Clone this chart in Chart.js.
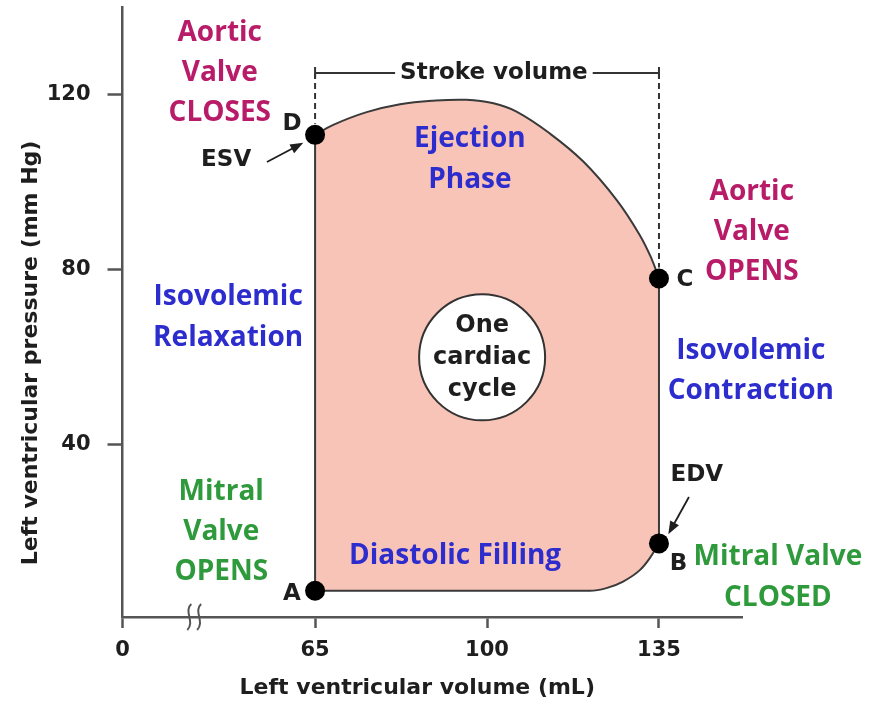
<!DOCTYPE html>
<html>
<head>
<meta charset="utf-8">
<script src="https://cdn.jsdelivr.net/npm/chart.js@4.4.1/dist/chart.umd.min.js"></script>
<style>
  html, body { margin: 0; padding: 0; background: #fff; }
  #wrap { width: 876px; height: 718px; }
</style>
</head>
<body>
<div id="wrap"><canvas id="pv-chart" width="876" height="718"></canvas></div>
<script>
// pressure-volume loop (volume in mL, pressure in mm Hg)
const topVolume = [65, 68.7, 75.5, 82.3, 89, 95.8, 101.3, 106, 112.8, 119.6, 126.4, 131.1, 133.5, 135];
const topPressure = [110.8, 113.1, 116.0, 117.8, 118.6, 118.8, 118.0, 116.1, 111.1, 104.7, 95.9, 87.9, 82.5, 78];

const bottomVolume = [65, 100, 120.9, 124.3, 127.7, 131.1, 133.1, 135];
const bottomPressure = [6.7, 6.7, 6.7, 7.3, 8.8, 11.4, 14.1, 17.5];

const pointNames = ["A", "B", "C", "D"];
const pointVolume = [65, 135, 135, 65];
const pointPressure = [6.7, 17.5, 78, 110.8];

// x axis is broken: the "0" tick sits at the break
const xTickValues = [25.8, 65, 100, 135];
const xTickLabels = ["0", "65", "100", "135"];
const yTickValues = [40, 80, 120];

const cycleVolume = 99;
const cyclePressure = 60;

const MAGENTA = "#b81c68", BLUE = "#2d2dce", GREEN = "#2f9a3c", INK = "#1e1e1e";
const LABEL_FONT = 'bold 28px "Open Sans", sans-serif';
const SMALL_FONT = 'bold 23px "DejaVu Sans", sans-serif';
const CYCLE_FONT = 'bold 24px "DejaVu Sans", sans-serif';

const xy = (xs, ys) => xs.map((v, i) => ({ x: v, y: ys[i] }));
const pt = i => ({ x: pointVolume[i], y: pointPressure[i] });

// text blocks placed in data units
const labels = [
  { lines: ["Aortic", "Valve", "CLOSES"], x: 45.6, y: 124.9, color: MAGENTA, gap: 40 },
  { lines: ["Ejection", "Phase"], x: 96.5, y: 105.1, color: BLUE, gap: 41 },
  { lines: ["Aortic", "Valve", "OPENS"], x: 153.9, y: 88.6, color: MAGENTA, gap: 40 },
  { lines: ["Isovolemic", "Relaxation"], x: 47.3, y: 69.0, color: BLUE, gap: 41 },
  { lines: ["Isovolemic", "Contraction"], x: 153.7, y: 56.9, color: BLUE, gap: 40 },
  { lines: ["Mitral", "Valve", "OPENS"], x: 45.9, y: 20.1, color: GREEN, gap: 40 },
  { lines: ["Diastolic Filling"], x: 93.5, y: 14.6, color: BLUE, gap: 40 },
  { lines: ["Mitral Valve", "CLOSED"], x: 159.2, y: 9.7, color: GREEN, gap: 41 },
  { lines: ["One", "cardiac", "cycle"], x: cycleVolume, y: cyclePressure, color: INK, gap: 32, font: CYCLE_FONT },
  { lines: ["ESV"], x: 46.9, y: 105.1, color: INK, font: SMALL_FONT },
  { lines: ["EDV"], x: 142.7, y: 33.1, color: INK, font: SMALL_FONT }
];
const pointLabelPos = [[60.3, 6.0], [139.0, 12.8], [140.3, 77.6], [60.3, 113.3]];
const arrows = [
  { from: [55.2, 104.6], to: [62.6, 109.0] },
  { from: [141.1, 28.1], to: [136.9, 19.6] }
];
const strokeLevel = 124.9;

function drawLines(ctx, b, px, py) {
  ctx.font = b.font || LABEL_FONT;
  ctx.fillStyle = b.color;
  ctx.textAlign = "center";
  ctx.textBaseline = "middle";
  const gap = b.gap || 40;
  const start = py - gap * (b.lines.length - 1) / 2;
  b.lines.forEach((t, i) => ctx.fillText(t, px, start + i * gap));
}

function arrow(ctx, x1, y1, x2, y2) {
  const a = Math.atan2(y2 - y1, x2 - x1);
  ctx.beginPath();
  ctx.moveTo(x1, y1);
  ctx.lineTo(x2 - 8 * Math.cos(a), y2 - 8 * Math.sin(a));
  ctx.stroke();
  ctx.beginPath();
  ctx.moveTo(x2, y2);
  ctx.lineTo(x2 - 13 * Math.cos(a) + 5 * Math.sin(a), y2 - 13 * Math.sin(a) - 5 * Math.cos(a));
  ctx.lineTo(x2 - 13 * Math.cos(a) - 5 * Math.sin(a), y2 - 13 * Math.sin(a) + 5 * Math.cos(a));
  ctx.closePath();
  ctx.fill();
}

const annotate = {
  id: "annotate",
  afterDraw(chart) {
    const { ctx, scales: { x, y }, chartArea } = chart;
    ctx.save();

    // stroke volume bracket + dashed drops to D and C
    const sy = y.getPixelForValue(strokeLevel);
    const x65 = x.getPixelForValue(pointVolume[3]);
    const x135 = x.getPixelForValue(pointVolume[2]);
    ctx.strokeStyle = "#333";
    ctx.lineWidth = 2;
    ctx.setLineDash([6, 4]);
    ctx.beginPath();
    ctx.moveTo(x65, sy);
    ctx.lineTo(x65, y.getPixelForValue(pointPressure[3]) - 11);
    ctx.moveTo(x135, sy);
    ctx.lineTo(x135, y.getPixelForValue(pointPressure[2]) - 11);
    ctx.stroke();
    ctx.setLineDash([]);
    ctx.beginPath();
    ctx.moveTo(x65, sy); ctx.lineTo(x135, sy);
    ctx.moveTo(x65, sy - 6); ctx.lineTo(x65, sy + 6);
    ctx.moveTo(x135, sy - 6); ctx.lineTo(x135, sy + 6);
    ctx.stroke();
    ctx.font = SMALL_FONT;
    const mid = x.getPixelForValue(101.4);
    const w = ctx.measureText("Stroke volume").width;
    ctx.fillStyle = "#fff";
    ctx.fillRect(mid - w / 2 - 5, sy - 14, w + 10, 28);
    ctx.fillStyle = INK;
    ctx.textAlign = "center";
    ctx.textBaseline = "middle";
    ctx.fillText("Stroke volume", mid, sy);

    // text labels
    labels.forEach(b => drawLines(ctx, b, x.getPixelForValue(b.x), y.getPixelForValue(b.y)));
    pointNames.forEach((n, i) => drawLines(ctx, { lines: [n], color: INK, font: SMALL_FONT },
      x.getPixelForValue(pointLabelPos[i][0]), y.getPixelForValue(pointLabelPos[i][1])));

    // ESV / EDV arrows
    ctx.strokeStyle = INK;
    ctx.fillStyle = INK;
    ctx.lineWidth = 1.8;
    arrows.forEach(a => arrow(ctx,
      x.getPixelForValue(a.from[0]), y.getPixelForValue(a.from[1]),
      x.getPixelForValue(a.to[0]), y.getPixelForValue(a.to[1])));

    // axis break marks
    const by = chartArea.bottom;
    ctx.strokeStyle = "#555";
    ctx.lineWidth = 2;
    [39.4, 41.4].forEach(v => {
      const bx = x.getPixelForValue(v);
      ctx.beginPath();
      ctx.moveTo(bx + 2, by - 13);
      ctx.bezierCurveTo(bx - 6, by - 6, bx + 6, by + 5, bx - 2, by + 13);
      ctx.stroke();
    });

    // axis titles
    ctx.fillStyle = INK;
    ctx.font = 'bold 22px "DejaVu Sans", sans-serif';
    ctx.textAlign = "center";
    ctx.textBaseline = "middle";
    ctx.fillText("Left ventricular volume (mL)", x.getPixelForValue(85.8), 688);
    ctx.translate(31, y.getPixelForValue(61));
    ctx.rotate(-Math.PI / 2);
    ctx.fillText("Left ventricular pressure (mm Hg)", 0, 0);
    ctx.restore();
  }
};

const ctx = document.getElementById("pv-chart").getContext("2d");
new Chart(ctx, {
  type: "scatter",
  data: {
    datasets: [
      { // A B C D markers
        data: xy(pointVolume, pointPressure),
        pointRadius: 10, pointBackgroundColor: "#000", pointBorderWidth: 0, showLine: false
      },
      { // "One cardiac cycle" disc
        data: [{ x: cycleVolume, y: cyclePressure }],
        pointRadius: 63, pointBackgroundColor: "#fff", pointBorderColor: "#333", pointBorderWidth: 2, showLine: false
      },
      { data: [pt(0), pt(3)], showLine: true, borderColor: "#3a3a3a", borderWidth: 2, pointRadius: 0 },
      { data: [pt(1), pt(2)], showLine: true, borderColor: "#3a3a3a", borderWidth: 2, pointRadius: 0 },
      { // filling limb
        data: xy(bottomVolume, bottomPressure), showLine: true, borderColor: "#3a3a3a", borderWidth: 2,
        pointRadius: 0, cubicInterpolationMode: "monotone"
      },
      { // ejection limb, filled down to the filling limb
        data: xy(topVolume, topPressure), showLine: true, borderColor: "#3a3a3a", borderWidth: 2,
        pointRadius: 0, tension: 0.4,
        fill: 4, backgroundColor: "#f8c4b8"
      }
    ]
  },
  options: {
    responsive: false,
    animation: false,
    layout: { autoPadding: false, padding: { left: 0, top: 7, right: 134, bottom: 0 } },
    plugins: { legend: { display: false }, tooltip: { enabled: false } },
    scales: {
      x: {
        type: "linear", min: 25.8, max: 151.9,
        afterFit: s => { s.height = 101; s.paddingLeft = 0; s.paddingRight = 0; },
        afterBuildTicks: s => { s.ticks = xTickValues.map(v => ({ value: v })); },
        grid: { drawOnChartArea: false, tickLength: 11, color: "#555", tickWidth: 2.5 },
        border: { color: "#555", width: 2.5 },
        ticks: {
          padding: 10, color: INK, maxRotation: 0,
          font: { family: "DejaVu Sans", size: 21, weight: "bold" },
          callback: (v, i) => xTickLabels[i]
        }
      },
      y: {
        type: "linear", min: 0.7, max: 140,
        afterFit: s => { s.width = 122.5; s.paddingTop = 0; s.paddingBottom = 0; },
        afterBuildTicks: s => { s.ticks = yTickValues.map(v => ({ value: v })); },
        grid: { drawOnChartArea: false, tickLength: 15, color: "#555", tickWidth: 2.5 },
        border: { color: "#555", width: 2.5 },
        ticks: {
          padding: 17, color: INK,
          font: { family: "DejaVu Sans", size: 21, weight: "bold" }
        }
      }
    }
  },
  plugins: [annotate]
});
</script>
</body>
</html>
